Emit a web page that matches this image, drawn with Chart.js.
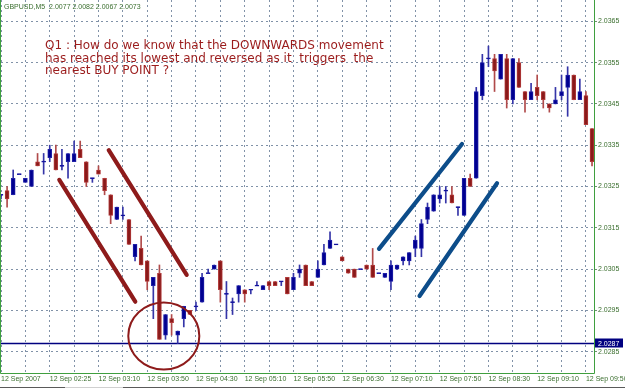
<!DOCTYPE html>
<html>
<head>
<meta charset="utf-8">
<script src="https://cdn.jsdelivr.net/npm/chart.js@4.4.0/dist/chart.umd.min.js"></script>
<style>
html,body{margin:0;padding:0;background:#ffffff;}
#wrap{position:relative;width:625px;height:389px;}
</style>
</head>
<body>
<div id="wrap"><canvas id="c" width="625" height="389"></canvas></div>
<script>
// ---- data ----
const symbolTitle = "GBPUSD,M5  2.0077 2.0082 2.0067 2.0073";

const openP = [
 2.0323,2.0324,2.0323,2.0328,2.0326,2.0325,2.0331,2.0331,2.0332,2.0333,
 2.0330,2.0331,2.0331,2.0334,2.0331,2.0327,2.0329,2.0327,2.0323,2.0317,
 2.0318,2.0317,2.0308,2.0310,2.0307,2.0301,2.0304,2.0289,2.0293,2.0289,
 2.0293,2.0295,2.0296,2.0297,2.0304,2.0305,2.0307,2.0299,2.0297,2.0299,
 2.0300,2.0300,2.0301,2.0300,2.0302,2.0302,2.0302,2.0303,2.0300,2.0304,
 2.0306,2.0302,2.0303,2.0306,2.0310,2.0311,2.0308,2.0305,2.0305,2.0305,
 2.0306,2.0306,2.0304,2.0303,2.0302,2.0305,2.0307,2.0307,2.0310,2.0310,
 2.0317,2.0319,2.0322,2.0324,2.0323,2.0320,2.0318,2.0327,2.0327,2.0347,
 2.0356,2.0356,2.0351,2.0356,2.0346,2.0355,2.0348,2.0346,2.0349,2.0348,
 2.0345,2.0345,2.0347,2.0349,2.0352,2.0346,2.0347,2.0339];
const highP = [
 2.0323,2.0325,2.0329,2.0328,2.0327,2.0329,2.0333,2.0333,2.0335,2.0335,
 2.0334,2.0333,2.0336,2.0336,2.0331,2.0327,2.0330,2.0327,2.0323,2.0320,
 2.0320,2.0317,2.0311,2.0313,2.0307,2.0303,2.0306,2.0294,2.0294,2.0290,
 2.0296,2.0295,2.0297,2.0304,2.0305,2.0306,2.0307,2.0302,2.0298,2.0301,
 2.0300,2.0300,2.0302,2.0301,2.0302,2.0302,2.0302,2.0303,2.0304,2.0306,
 2.0306,2.0302,2.0307,2.0311,2.0314,2.0311,2.0308,2.0305,2.0305,2.0305,
 2.0306,2.0310,2.0304,2.0304,2.0307,2.0306,2.0308,2.0309,2.0313,2.0317,
 2.0321,2.0323,2.0325,2.0325,2.0325,2.0320,2.0327,2.0328,2.0349,2.0357,
 2.0359,2.0357,2.0357,2.0357,2.0356,2.0356,2.0348,2.0350,2.0352,2.0348,
 2.0345,2.0349,2.0352,2.0354,2.0352,2.0351,2.0348,2.0339];
const lowP = [
 2.0322,2.0320,2.0323,2.0328,2.0326,2.0325,2.0330,2.0328,2.0331,2.0329,
 2.0329,2.0327,2.0331,2.0332,2.0325,2.0326,2.0328,2.0323,2.0316,2.0317,
 2.0317,2.0311,2.0307,2.0306,2.0300,2.0293,2.0288,2.0288,2.0289,2.0287,
 2.0291,2.0294,2.0295,2.0297,2.0304,2.0305,2.0297,2.0293,2.0294,2.0297,
 2.0297,2.0299,2.0301,2.0300,2.0300,2.0301,2.0301,2.0299,2.0300,2.0303,
 2.0301,2.0301,2.0303,2.0306,2.0310,2.0311,2.0307,2.0304,2.0303,2.0305,
 2.0305,2.0303,2.0304,2.0303,2.0300,2.0305,2.0306,2.0306,2.0308,2.0308,
 2.0316,2.0319,2.0321,2.0321,2.0321,2.0318,2.0318,2.0325,2.0327,2.0346,
 2.0354,2.0348,2.0351,2.0344,2.0345,2.0349,2.0343,2.0346,2.0346,2.0344,
 2.0343,2.0345,2.0346,2.0342,2.0346,2.0346,2.0340,2.0330];
const closeP = [
 2.0323,2.0322,2.0327,2.0328,2.0327,2.0329,2.0330,2.0331,2.0334,2.0329,
 2.0330,2.0333,2.0333,2.0332,2.0326,2.0327,2.0328,2.0324,2.0318,2.0320,
 2.0318,2.0311,2.0311,2.0306,2.0302,2.0303,2.0288,2.0294,2.0292,2.0290,
 2.0296,2.0294,2.0296,2.0303,2.0304,2.0306,2.0300,2.0299,2.0297,2.0301,
 2.0299,2.0300,2.0301,2.0301,2.0301,2.0301,2.0302,2.0299,2.0303,2.0305,
 2.0301,2.0301,2.0305,2.0309,2.0312,2.0311,2.0307,2.0304,2.0303,2.0305,
 2.0305,2.0303,2.0304,2.0304,2.0306,2.0306,2.0308,2.0309,2.0312,2.0316,
 2.0320,2.0323,2.0323,2.0324,2.0321,2.0320,2.0327,2.0325,2.0348,2.0355,
 2.0356,2.0353,2.0357,2.0346,2.0356,2.0349,2.0346,2.0348,2.0347,2.0346,
 2.0344,2.0346,2.0348,2.0352,2.0346,2.0348,2.0340,2.0331];

const xTickLabels = ["12 Sep 2007","12 Sep 02:25","12 Sep 03:10","12 Sep 03:50","12 Sep 04:30",
 "12 Sep 05:10","12 Sep 05:50","12 Sep 06:30","12 Sep 07:10","12 Sep 07:50","12 Sep 08:30",
 "12 Sep 09:10","12 Sep 09:50"];
const xTickBars = [0,8,16,24,32,40,48,56,64,72,80,88,96];
const xGridBars = [0,4,8,12,16,20,24,28,32,36,40,44,48,52,56,60,64,68,72,76,80,84,88,92,96];
const yTickValues = [2.0285,2.0295,2.0305,2.0315,2.0325,2.0335,2.0345,2.0355,2.0365];
const lastPrice = 2.0287;

const noteLines = [
 "Q1 : How do we know that the DOWNWARDS movement",
 "has reached its lowest and reversed as it  triggers  the",
 "nearest BUY POINT ?"];

// hand-drawn annotations, in (bar index, price) units
const downTrendA = [{x:9.57, y:2.03266},{x:22.04, y:2.02971}];
const downTrendB = [{x:17.68, y:2.03338},{x:30.48, y:2.03036}];
const upTrendC   = [{x:62.04, y:2.03099},{x:75.66, y:2.03353}];
const upTrendD   = [{x:68.69, y:2.02985},{x:81.41, y:2.03258}];
const circleCenter = {x:26.72, y:2.02888};
const circleRadius = {x:5.83, y:0.000811};

// ---- styling ----
const bullFill = '#000090', bullEdge = '#2020a8', bullWick = '#3535a8';
const bearFill = '#8a1a1a', bearEdge = '#b23a3a', bearWick = '#b04a4a';
const gridColor = '#8192a8';
const axisText = '#3a6e2e';
const frameColor = '#3f9f3f';
const redInk = '#8e1b1b';
const blueInk = '#0d4d8a';

const isBull = i => closeP[i] >= openP[i];
const wickData = openP.map((o,i) => ({x:i, y:[lowP[i], highP[i]]}));
const bodyData = openP.map((o,i) => {
  let lo = Math.min(o, closeP[i]), hi = Math.max(o, closeP[i]);
  if (hi - lo < 0.00003) { const m = (hi+lo)/2; lo = m - 0.000013; hi = m + 0.000013; }
  return {x:i, y:[lo, hi]};
});

const xMin = 0, xMax = 593/6.093;
const yMax = 2.0365 + 21.3/41300;
const yMin = yMax - 373/41300;

const overlay = {
  id: 'overlay',
  beforeDatasetsDraw(chart) {
    const {ctx, chartArea:a, scales:{y}} = chart;
    ctx.save();
    const yp = y.getPixelForValue(lastPrice);
    ctx.strokeStyle = '#000080';
    ctx.lineWidth = 1.6;
    ctx.beginPath(); ctx.moveTo(a.left, yp); ctx.lineTo(a.right, yp); ctx.stroke();
    ctx.restore();
  },
  afterDatasetsDraw(chart) {
    const {ctx, chartArea:a, scales:{x, y}} = chart;
    ctx.save();
    ctx.beginPath(); ctx.rect(a.left, a.top, a.right-a.left, a.bottom-a.top); ctx.clip();
    const cx = x.getPixelForValue(circleCenter.x), cy = y.getPixelForValue(circleCenter.y);
    const rx = x.getPixelForValue(circleCenter.x + circleRadius.x) - cx;
    const ry = cy - y.getPixelForValue(circleCenter.y + circleRadius.y);
    ctx.strokeStyle = redInk; ctx.lineWidth = 2;
    ctx.beginPath(); ctx.ellipse(cx, cy, rx, ry, 0, 0, Math.PI*2); ctx.stroke();
    ctx.restore();
  },
  afterDraw(chart) {
    const {ctx, chartArea:a, scales:{y}} = chart;
    ctx.save();
    // frame
    ctx.strokeStyle = frameColor; ctx.lineWidth = 1;
    ctx.beginPath();
    ctx.moveTo(0.5, 0); ctx.lineTo(0.5, a.bottom + 0.5);
    ctx.lineTo(a.right + 0.5, a.bottom + 0.5);
    ctx.moveTo(a.right + 0.5, 0); ctx.lineTo(a.right + 0.5, a.bottom + 0.5);
    ctx.stroke();
    // bottom tab line
    ctx.strokeStyle = '#5a5a5a';
    ctx.beginPath(); ctx.moveTo(0, 387.5); ctx.lineTo(625, 387.5); ctx.stroke();
    ctx.strokeStyle = '#d0d0d0';
    ctx.beginPath(); ctx.moveTo(65, 387.5); ctx.lineTo(123, 387.5); ctx.stroke();
    // title
    ctx.fillStyle = axisText;
    ctx.font = '7px "Liberation Sans"';
    ctx.textBaseline = 'alphabetic'; ctx.textAlign = 'left';
    ctx.fillText(symbolTitle, 4, 8.5);
    // question text
    ctx.fillStyle = '#9b1c1c';
    ctx.font = '12px "DejaVu Sans"';
    const base = [49.3, 61.8, 74.0];
    noteLines.forEach((t,k) => ctx.fillText(t, 45, base[k]));
    // last price box
    const yp = y.getPixelForValue(lastPrice);
    ctx.fillStyle = '#000080';
    ctx.fillRect(a.right + 1, Math.round(yp) - 4.5, 28, 9);
    ctx.fillStyle = '#ffffff';
    ctx.font = '7px "Liberation Sans"';
    ctx.textBaseline = 'middle';
    ctx.fillText(lastPrice.toFixed(4), a.right + 4, yp + 0.5);
    ctx.restore();
  }
};

const lineDs = (pts, color) => ({
  type:'line', data: pts, borderColor: color, borderWidth: 4.2, pointRadius: 0,
  borderCapStyle:'round', fill:false, order: 1, tension: 0
});

new Chart(document.getElementById('c'), {
  type: 'bar',
  data: {
    datasets: [
      { data: wickData, barThickness: 1, grouped: false, order: 3, borderWidth: 0,
        backgroundColor: c => isBull(c.dataIndex) ? bullWick : bearWick },
      { data: bodyData, barThickness: 4, grouped: false, order: 2, borderWidth: 1, borderSkipped: false,
        backgroundColor: c => isBull(c.dataIndex) ? bullFill : bearFill,
        borderColor: c => isBull(c.dataIndex) ? bullEdge : bearEdge },
      lineDs(downTrendA, redInk),
      lineDs(downTrendB, redInk),
      lineDs(upTrendC, blueInk),
      lineDs(upTrendD, blueInk)
    ]
  },
  options: {
    responsive: false, animation: false, devicePixelRatio: 1,
    layout: { padding: { left: 1, right: 0, top: 0, bottom: 0 }, autoPadding: false },
    plugins: { legend: { display: false }, tooltip: { enabled: false } },
    scales: {
      x: {
        type: 'linear', position: 'bottom', min: xMin, max: xMax, offset: false,
        afterBuildTicks: s => { s.ticks = xGridBars.map(v => ({ value: v })); },
        afterFit: s => { s.height = 16; s.paddingLeft = 0; s.paddingRight = 0; },
        grid: { offset: false, color: gridColor, lineWidth: 1, drawTicks: false, tickLength: 0 },
        border: { display: false, dash: [2, 3] },
        ticks: {
          autoSkip: false, maxRotation: 0, minRotation: 0, align: 'start', padding: 2,
          color: axisText, font: { family: 'Liberation Sans', size: 7 },
          callback: v => { const k = xTickBars.indexOf(v); return k >= 0 ? xTickLabels[k] : ''; }
        }
      },
      y: {
        type: 'linear', position: 'right', min: yMin, max: yMax,
        afterBuildTicks: s => { s.ticks = yTickValues.map(v => ({ value: v })); },
        afterFit: s => { s.width = 31; s.paddingTop = 0; s.paddingBottom = 0; },
        grid: { color: gridColor, lineWidth: 1, drawTicks: true, tickLength: 3, tickColor: '#6f8f6f' },
        border: { display: false, dash: [2, 3] },
        ticks: {
          padding: 1, color: axisText, font: { family: 'Liberation Sans', size: 7 },
          callback: v => Number(v).toFixed(4)
        }
      }
    }
  },
  plugins: [overlay]
});
</script>
</body>
</html>
